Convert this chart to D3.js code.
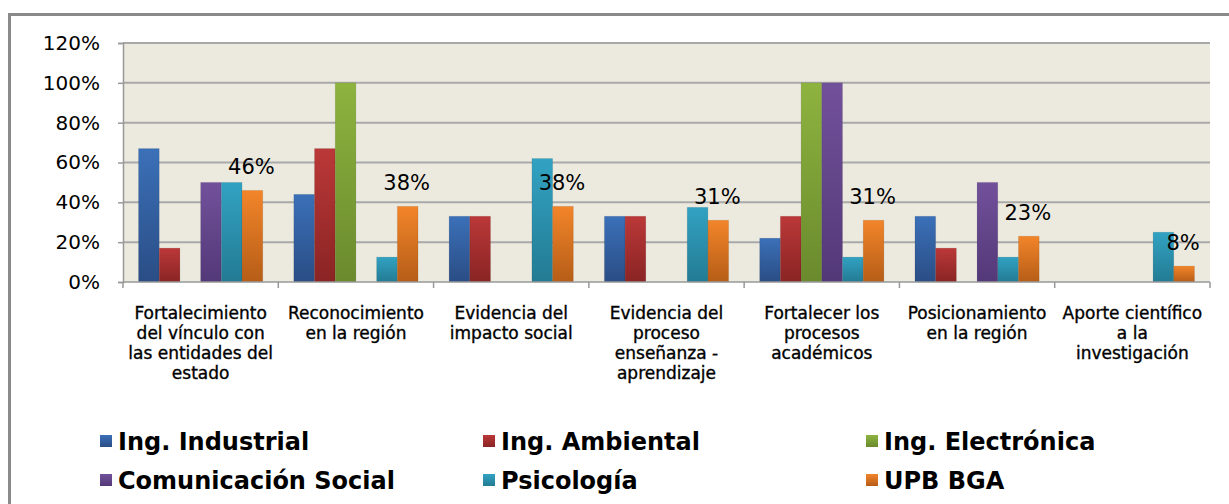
<!DOCTYPE html>
<html>
<head>
<meta charset="utf-8">
<script src="https://cdn.jsdelivr.net/npm/d3@7"></script>
<style>
  body { margin: 0; background: #fff; }
  svg { display: block; }
</style>
</head>
<body>
<div id="chart"></div>
<script>
var width = 1229,
    height = 504;

// category labels, already broken into lines as in the original
var categories = [
    ['Fortalecimiento', 'del vínculo con', 'las entidades del', 'estado'],
    ['Reconocimiento', 'en la región'],
    ['Evidencia del', 'impacto social'],
    ['Evidencia del', 'proceso', 'enseñanza -', 'aprendizaje'],
    ['Fortalecer los', 'procesos', 'académicos'],
    ['Posicionamiento', 'en la región'],
    ['Aporte científico', 'a la', 'investigación']
];

var seriesNames = ['Ing. Industrial', 'Ing. Ambiental', 'Ing. Electrónica', 'Comunicación Social', 'Psicología', 'UPB BGA'];

var industrial   = [67, 44, 33, 33, 22, 33, 0];
var ambiental    = [17, 67, 33, 33, 33, 17, 0];
var electronica  = [0, 100, 0, 0, 100, 0, 0];
var comunicacion = [50, 0, 0, 0, 100, 50, 0];
var psicologia   = [50, 12.5, 62, 37.5, 12.5, 12.5, 25];
var upb          = [46, 38, 38, 31, 31, 23, 8];

var yTicks = [0, 20, 40, 60, 80, 100, 120];

var seriesValues = [industrial, ambiental, electronica, comunicacion, psicologia, upb];

// top / bottom colours of each bar gradient
var colorTop = ['#3b70b8', '#bb3838', '#8eb33f', '#72519b', '#32a2c2', '#f2852a'];
var colorBottom = ['#2a4d85', '#8a2424', '#6a8a2d', '#533878', '#237b93', '#b65d17'];

var margin = { left: 123, right: 1210, top: 43, bottom: 282 };

var svg = d3.select('#chart').append('svg')
    .attr('width', width)
    .attr('height', height);

var defs = svg.append('defs');
seriesNames.forEach(function(s, i) {
    var g = defs.append('linearGradient')
        .attr('id', 'grad' + i)
        .attr('x1', 0).attr('y1', 0)
        .attr('x2', 0).attr('y2', 1);
    g.append('stop').attr('offset', '0%').attr('stop-color', colorTop[i]);
    g.append('stop').attr('offset', '100%').attr('stop-color', colorBottom[i]);
});

// outer frame (runs off the right and bottom edges)
svg.append('rect')
    .attr('x', 9.5).attr('y', 14.5)
    .attr('width', 1240).attr('height', 520)
    .attr('fill', '#fff')
    .attr('stroke', '#8a8a8a')
    .attr('stroke-width', 3);

var x0 = d3.scaleBand()
    .domain(d3.range(categories.length))
    .range([margin.left, margin.right])
    .paddingInner(0.2)
    .paddingOuter(0.1);

var x1 = d3.scaleBand()
    .domain(d3.range(seriesNames.length))
    .range([0, x0.bandwidth()]);

var y = d3.scaleLinear()
    .domain([0, 120])
    .range([margin.bottom, margin.top]);

// plot background
svg.append('rect')
    .attr('x', margin.left).attr('y', margin.top)
    .attr('width', margin.right - margin.left)
    .attr('height', margin.bottom - margin.top)
    .attr('fill', '#eceadf');

// grid lines
svg.append('g').selectAll('line')
    .data(yTicks.filter(function(d) { return d > 0; }))
    .enter().append('line')
    .attr('x1', margin.left).attr('x2', margin.right)
    .attr('y1', function(d) { return y(d); })
    .attr('y2', function(d) { return y(d); })
    .attr('stroke', '#a9a9a9')
    .attr('stroke-width', 2);

// y axis
var yAxis = d3.axisLeft(y)
    .tickValues(yTicks)
    .tickSize(5)
    .tickPadding(18)
    .tickFormat(function(d) { return d + '%'; });

var gy = svg.append('g')
    .attr('transform', 'translate(' + margin.left + ',0)')
    .call(yAxis);
gy.select('.domain').attr('stroke', '#999').attr('stroke-width', 1.5);
gy.selectAll('.tick line').attr('stroke', '#999').attr('stroke-width', 1.5);
gy.selectAll('.tick text')
    .attr('font-family', 'DejaVu Sans, Verdana, sans-serif')
    .attr('font-size', '20px')
    .attr('fill', '#000');

// bars
var groups = svg.append('g').selectAll('g')
    .data(categories)
    .enter().append('g')
    .attr('transform', function(d, i) { return 'translate(' + x0(i) + ',0)'; });

groups.selectAll('rect')
    .data(function(d, ci) {
        return seriesValues.map(function(vals, si) { return { s: si, v: vals[ci] }; });
    })
    .enter().append('rect')
    .filter(function(d) { return d.v > 0; })
    .attr('x', function(d) { return x1(d.s); })
    .attr('y', function(d) { return y(d.v); })
    .attr('width', x1.bandwidth())
    .attr('height', function(d) { return y(0) - y(d.v); })
    .attr('fill', function(d) { return 'url(#grad' + d.s + ')'; })
    .attr('stroke', 'rgba(0,0,0,0.08)')
    .attr('stroke-width', 1);

// data labels for UPB BGA
var upbIndex = seriesNames.length - 1;
svg.append('g').selectAll('text')
    .data(upb)
    .enter().append('text')
    .attr('x', function(d, i) { return x0(i) + x1(upbIndex) + x1.bandwidth() / 2 - 1; })
    .attr('y', function(d) { return y(d) - 16; })
    .attr('text-anchor', 'middle')
    .attr('font-family', 'DejaVu Sans, Verdana, sans-serif')
    .attr('font-size', '21px')
    .attr('fill', '#000')
    .text(function(d) { return d + '%'; });

// x axis
var gx = svg.append('g')
    .attr('transform', 'translate(0,' + margin.bottom + ')');
gx.append('line')
    .attr('x1', margin.left).attr('x2', margin.right)
    .attr('stroke', '#999').attr('stroke-width', 1.5);
gx.selectAll('line.tk')
    .data(d3.range(categories.length + 1))
    .enter().append('line')
    .attr('class', 'tk')
    .attr('x1', function(d) { return margin.left + d * x0.step(); })
    .attr('x2', function(d) { return margin.left + d * x0.step(); })
    .attr('y1', 0).attr('y2', 6)
    .attr('stroke', '#999').attr('stroke-width', 1.5);

var labels = gx.selectAll('text.cat')
    .data(categories)
    .enter().append('text')
    .attr('class', 'cat')
    .attr('text-anchor', 'middle')
    .attr('font-family', 'DejaVu Sans, Verdana, sans-serif')
    .attr('font-size', '17px')
    .attr('fill', '#000')
    .attr('stroke', '#000')
    .attr('stroke-width', 0.35)
    .attr('transform', function(d, i) { return 'translate(' + (x0(i) + x0.bandwidth() / 2) + ',37)'; });

labels.selectAll('tspan')
    .data(function(d) { return d; })
    .enter().append('tspan')
    .attr('x', 0)
    .attr('y', function(d, i) { return i * 20; })
    .text(function(d) { return d; });

// legend
var legendX = [100, 483, 866],
    legendY = [441, 480];

var legend = svg.append('g').selectAll('g')
    .data(seriesNames)
    .enter().append('g')
    .attr('transform', function(d, i) {
        return 'translate(' + legendX[i % 3] + ',' + legendY[Math.floor(i / 3)] + ')';
    });

legend.append('rect')
    .attr('x', 0).attr('y', -6)
    .attr('width', 12).attr('height', 12)
    .attr('fill', function(d, i) { return 'url(#grad' + i + ')'; });

legend.append('text')
    .attr('x', 18)
    .attr('y', 9)
    .attr('font-family', 'DejaVu Sans, Verdana, sans-serif')
    .attr('font-weight', 'bold')
    .attr('font-size', '24px')
    .attr('fill', '#000')
    .text(function(d) { return d; });
</script>
</body>
</html>
